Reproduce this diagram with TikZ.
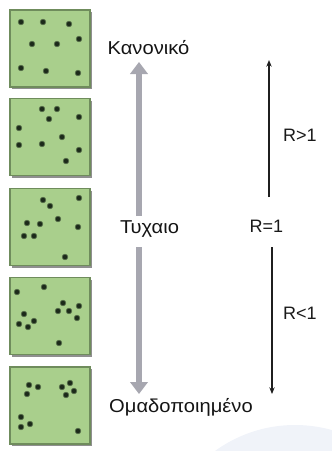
\documentclass[tikz,border=0pt]{standalone}
\usepackage{fontspec}
\setmainfont{Liberation Sans}
\usetikzlibrary{arrows.meta,shadows}
\definecolor{boxfill}{HTML}{A9CF8C}
\definecolor{boxedge}{HTML}{6F8C5C}
\definecolor{dotcol}{HTML}{1C2A1A}
\definecolor{grayarrow}{HTML}{A7A7B0}
\definecolor{wmark}{HTML}{F0F3F9}
\definecolor{wmarkin}{HTML}{E6ECF5}
\tikzset{
  pattbox/.style={draw=boxedge, line width=0.9pt, fill=boxfill, minimum width=60pt, minimum height=57.75pt, inner sep=0pt,
    drop shadow={shadow xshift=1.6pt, shadow yshift=-1.6pt, fill=black!55, opacity=0.8}},
  lbl/.style={font=\fontsize{14}{16}\selectfont, text=black!92, inner sep=1pt, xscale=1.08},
  rlbl/.style={font=\fontsize{13.5}{16}\selectfont, text=black!90, inner sep=1pt},
  bigarrow/.style={draw=grayarrow, line width=4.6pt, -{Triangle[width=13pt,length=9pt]}},
  thinarrow/.style={draw=black!88, line width=0.8pt, -{Stealth[length=5pt,width=4pt]}},
  dt/.style={fill=dotcol, draw=dotcol!60!boxfill, line width=0.5pt}
}
\newcommand{\dotat}[2]{\filldraw[dt] (#1,#2) circle (2.1pt);}
\begin{document}
\begin{tikzpicture}[x=0.75pt,y=-0.75pt]
\useasboundingbox (0,0) rectangle (332,451);
% watermark
\begin{scope}
\clip (0,0) rectangle (332,451);
\fill[wmark] (295,561) circle (136);
\fill[wmarkin] (300,575) circle (118);
\end{scope}
% boxes
\node[pattbox] (b1) at (50,48.5) {};
\node[pattbox] (b2) at (50,137) {};
\node[pattbox] (b3) at (50,227) {};
\node[pattbox] (b4) at (50,316) {};
\node[pattbox] (b5) at (50,405.5) {};
% dots box 1
\dotat{21}{22}\dotat{43}{22}\dotat{69}{24}\dotat{79}{39}\dotat{32}{44}
\dotat{57}{44}\dotat{21}{68}\dotat{46}{71}\dotat{78}{73}
% dots box 2
\dotat{42}{109}\dotat{57}{109}\dotat{49}{119}\dotat{79}{117}\dotat{19}{128}
\dotat{62}{137}\dotat{19}{145}\dotat{42}{144}\dotat{79}{150}\dotat{66}{161}
% dots box 3
\dotat{43}{200}\dotat{50}{206}\dotat{79}{198}\dotat{58}{219}\dotat{27}{223}
\dotat{40}{224}\dotat{78}{227}\dotat{24}{236}\dotat{34}{236}\dotat{65}{257}
% dots box 4
\dotat{17}{292}\dotat{44}{287}\dotat{63}{303}\dotat{79}{306}\dotat{58}{311}
\dotat{69}{311}\dotat{24}{314}\dotat{77}{318}\dotat{34}{321}\dotat{19}{324}
\dotat{28}{327}\dotat{59}{343}
% dots box 5
\dotat{29}{385}\dotat{38}{387}\dotat{27}{394}\dotat{62}{387}\dotat{70}{383}
\dotat{74}{391}\dotat{66}{395}\dotat{21}{417}\dotat{30}{424}\dotat{21}{427}
\dotat{78}{431}
% labels
\node[lbl] (kan) at (148.5,48) {Κανονικό};
\node[lbl] (tyx) at (149.5,229) {Τυχαιο};
\node[lbl] (oma) at (181,407) {Ομαδοποιημένο};
\node[rlbl] (r1) at (266.5,226) {R=1};
\node[rlbl] (rg) at (300,135) {R>1};
\node[rlbl] (rl) at (300,313) {R<1};
% gray double arrow
\coordinate (gt) at (139,62);
\coordinate (gu) at (139,216);
\coordinate (gl) at (139,247);
\coordinate (gb) at (139,394);
\draw[bigarrow] (gu) -- (gt);
\draw[bigarrow] (gl) -- (gb);
% thin arrows
\coordinate (tt) at (269,60);
\coordinate (tu) at (269,197);
\coordinate (tl) at (272,247);
\coordinate (tb) at (272,394);
\draw[thinarrow] (tu) -- (tt);
\draw[thinarrow] (tl) -- (tb);
\end{tikzpicture}
\end{document}
